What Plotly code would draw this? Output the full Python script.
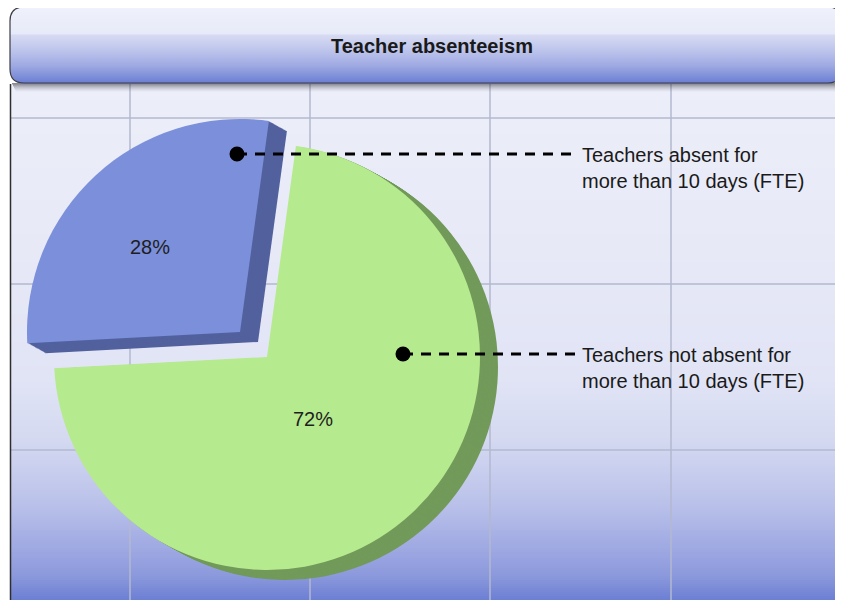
import math
import plotly.graph_objects as go

# ---------------- data ----------------
slice_names = ["Teachers absent for more than 10 days (FTE)",
               "Teachers not absent for more than 10 days (FTE)"]
slice_values = [28, 72]
callout_texts = ["Teachers absent for<br>more than 10 days (FTE)",
                 "Teachers not absent for<br>more than 10 days (FTE)"]
chart_title = "Teacher absenteeism"

# ---------------- styling ----------------
SW, SH = 843, 600            # window size
OFF = 8                      # page body margin: figure sits 8px right/down in the window
FW, FH = 843, 600            # figure size
FONT = "Liberation Sans, Arial, Helvetica, sans-serif"
face_colors = ["#7b8fdb", "#b6ea8f"]
side_colors = ["#52619e", "#729a5a"]
TRANSPARENT = "rgba(0,0,0,0)"

R = 213                     # pie radius (px)
centers = [(240, 332), (267, 357)]   # blue (exploded) and green slice centres (screen px)
ROTATION = 267              # start angle of first slice, clockwise from 12 o'clock
DEPTH = (18, 10)            # extrusion direction (px)
NSTEPS = 14


def domain(cx, cy, r):
    return dict(x=[(cx - r - OFF) / FW, (cx + r - OFF) / FW],
                y=[1 - (cy + r - OFF) / FH, 1 - (cy - r - OFF) / FH])


def hexrgb(h):
    h = h.lstrip("#")
    return tuple(int(h[i:i + 2], 16) for i in (0, 2, 4))


def interp(stops, y):
    for (y0, c0), (y1, c1) in zip(stops[:-1], stops[1:]):
        if y0 <= y <= y1:
            t = 0 if y1 == y0 else (y - y0) / (y1 - y0)
            a, b = hexrgb(c0), hexrgb(c1)
            return "rgb(%d,%d,%d)" % tuple(round(a[k] + (b[k] - a[k]) * t) for k in range(3))
    return stops[-1][1] if y > stops[-1][0] else stops[0][1]


fig = go.Figure()

# extrusion (side) copies
for k in range(NSTEPS, 0, -1):
    dx, dy = DEPTH[0] * k / NSTEPS, DEPTH[1] * k / NSTEPS
    for i in range(len(slice_values)):
        cols = [TRANSPARENT] * len(slice_values)
        cols[i] = side_colors[i]
        cx, cy = centers[i]
        fig.add_trace(go.Pie(
            labels=slice_names, values=slice_values, sort=False,
            direction="clockwise", rotation=ROTATION,
            marker=dict(colors=cols, line=dict(width=0)),
            textinfo="none", hoverinfo="skip", showlegend=False,
            domain=domain(cx + dx, cy + dy, R)))

# faces
for i in range(len(slice_values)):
    cols = [TRANSPARENT] * len(slice_values)
    cols[i] = face_colors[i]
    cx, cy = centers[i]
    fig.add_trace(go.Pie(
        labels=slice_names, values=slice_values, sort=False,
        direction="clockwise", rotation=ROTATION,
        marker=dict(colors=cols, line=dict(width=0)),
        textinfo="none", hoverinfo="skip", showlegend=False,
        domain=domain(cx, cy, R)))

# percentage labels placed along each slice bisector
total = sum(slice_values)
label_r = [0.58, 0.36]
annotations = []
start = ROTATION
for i, v in enumerate(slice_values):
    span = 360 * v / total
    bis = math.radians(start + span / 2)
    cx, cy = centers[i]
    lx = cx + label_r[i] * R * math.sin(bis)
    ly = cy - label_r[i] * R * math.cos(bis)
    annotations.append(dict(x=lx - 6, y=ly + 6, xref="x", yref="y", showarrow=False,
                            text="%d%%" % round(100 * v / total),
                            font=dict(family=FONT, size=20, color="#1e1e1e")))
    start += span

shapes = []

# background gradient panel
bg_stops = [(84, "#eceef9"), (250, "#e7e9f7"), (380, "#e1e4f5"), (440, "#d4d9f1"),
            (500, "#bcc3ea"), (545, "#a1abe3"), (575, "#8c99dc"), (600, "#6c7fd3")]
for y in range(84, 600, 2):
    shapes.append(dict(type="rect", xref="x", yref="y", x0=11, x1=SW + 10, y0=y, y1=y + 2.6,
                       fillcolor=interp(bg_stops, y + 1), line=dict(width=0), layer="below"))

# grid lines
for gx in [130, 310, 490, 671]:
    shapes.append(dict(type="line", xref="x", yref="y", x0=gx, x1=gx, y0=84, y1=610,
                       line=dict(color="#b3b8cf", width=1.5), layer="below"))
for gy in [118, 284, 450]:
    shapes.append(dict(type="line", xref="x", yref="y", x0=11, x1=SW + 10, y0=gy, y1=gy,
                       line=dict(color="#b3b8cf", width=1.5), layer="below"))

# left border of panel
shapes.append(dict(type="line", xref="x", yref="y", x0=10.5, x1=10.5, y0=84, y1=610,
                   line=dict(color="#2e2e2e", width=1.5), layer="below"))

# bar shadow
for j in range(9):
    shapes.append(dict(type="rect", xref="x", yref="y", x0=12 + j * 0.5, x1=SW + 10, y0=83 + j, y1=84 + j,
                       fillcolor="rgba(40,40,50,%.3f)" % (0.55 * (1 - j / 9) ** 1.5),
                       line=dict(width=0), layer="above"))

# title bar (rounded, gradient)
BX0, BX1, BY0, BY1, RAD = 10, 842, 7, 83, 14
bar_stops = [(7, "#eff1fb"), (34, "#e7eaf8"), (35, "#d7dbf2"), (50, "#bec5ec"),
             (66, "#9ea9e2"), (83, "#6a7ed3")]
for y in range(BY0, BY1):
    yc = y + 0.5
    d = min(yc - BY0, BY1 - yc)
    inset = 0.0
    if d < RAD:
        inset = RAD - math.sqrt(max(RAD ** 2 - (RAD - d) ** 2, 0))
    shapes.append(dict(type="rect", xref="x", yref="y", x0=BX0 + inset, x1=BX1 - inset,
                       y0=y, y1=y + 1.4, fillcolor=interp(bar_stops, yc),
                       line=dict(width=0), layer="above"))
# outline of bar
path = (f"M {BX0 + RAD},{BY0} L {BX1 - RAD},{BY0} Q {BX1},{BY0} {BX1},{BY0 + RAD} "
        f"L {BX1},{BY1 - RAD} Q {BX1},{BY1} {BX1 - RAD},{BY1} L {BX0 + RAD},{BY1} "
        f"Q {BX0},{BY1} {BX0},{BY1 - RAD} L {BX0},{BY0 + RAD} Q {BX0},{BY0} {BX0 + RAD},{BY0} Z")
shapes.append(dict(type="path", xref="x", yref="y", path=path,
                   line=dict(color="#3c3c44", width=1.2), layer="above"))

# callouts: dot + dashed leader line
callout_pts = [(237, 154), (403, 354)]
for (px, py), txt in zip(callout_pts, callout_texts):
    shapes.append(dict(type="line", xref="x", yref="y", x0=px, x1=577, y0=py, y1=py,
                       line=dict(color="#000000", width=3, dash="10px,8px"), layer="above"))
    shapes.append(dict(type="circle", xref="x", yref="y", x0=px - 7.5, x1=px + 7.5,
                       y0=py - 7.5, y1=py + 7.5, fillcolor="#000000",
                       line=dict(width=0), layer="above"))
    annotations.append(dict(x=580, y=py + 14, xref="x", yref="y", xanchor="left",
                            yanchor="middle", align="left", showarrow=False, text=txt,
                            font=dict(family=FONT, size=20, color="#1a1a1a")))

annotations.append(dict(x=432, y=46, xref="x", yref="y", showarrow=False,
                        text="<b>%s</b>" % chart_title,
                        font=dict(family=FONT, size=20, color="#1a1a1a")))

# axes mapped so that data units equal window pixels
fig.update_layout(
    width=FW, height=FH, margin=dict(l=0, r=0, t=0, b=0),
    paper_bgcolor="white", plot_bgcolor="rgba(0,0,0,0)",
    xaxis=dict(range=[OFF, FW + OFF], visible=False, fixedrange=True),
    yaxis=dict(range=[FH + OFF, OFF], visible=False, fixedrange=True),
    shapes=shapes, annotations=annotations, showlegend=False,
)

fig.write_html("out.html")
